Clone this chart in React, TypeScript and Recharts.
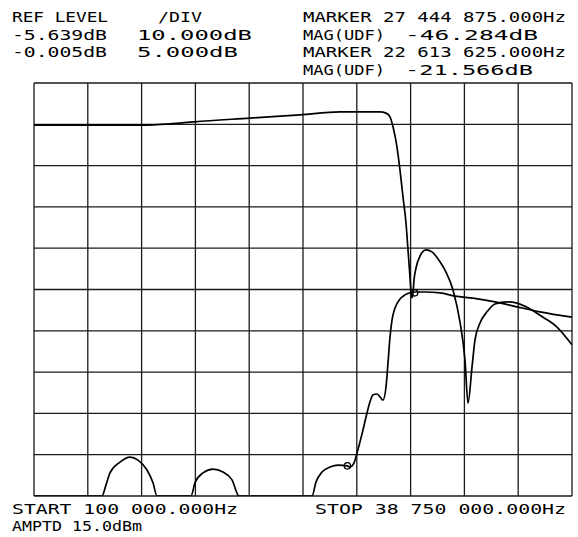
import React from "react";
import { LineChart, Line, XAxis, YAxis, CartesianGrid, ReferenceDot } from "recharts";

// Sweep (MHz)
const START_MHZ = 0.1;
const STOP_MHZ = 38.75;
const DIVISIONS_X = 10;
const DIVISIONS_Y = 10;

// Trace 1 (passband response) — level in graticule divisions above bottom
const trace1Freq = [
  0.1, 3.908, 7.787, 9.87, 11.594, 15.617, 19.209, 22.083, 24.957, 25.388, 25.675, 25.891,
  26.178, 26.393, 26.609, 26.824, 26.968, 27.112, 27.184, 27.256, 27.328, 27.399, 27.543,
  27.83, 28.261, 28.692, 29.267, 29.698, 30.201, 30.704, 31.063, 31.279, 31.566, 31.782,
  32.141, 32.644, 33.218, 34.08, 34.799, 35.733, 36.667, 37.673, 38.75,
];
const trace1Level = [
  8.98, 8.98, 8.98, 9.01, 9.06, 9.15, 9.23, 9.3, 9.3, 9.27, 9.18, 8.94,
  8.45, 7.89, 7.24, 6.61, 5.96, 5.3, 4.94, 4.8, 4.92, 5.23, 5.52,
  5.81, 5.96, 5.91, 5.67, 5.42, 4.99, 4.21, 3.29, 2.25, 3.12, 3.78,
  4.19, 4.46, 4.65, 4.7, 4.67, 4.53, 4.33, 4.09, 3.66,
];

// Trace 2 (stopband response)
const trace2Freq = [
  0.1, 4.985, 5.272, 5.56, 6.278, 6.997, 7.571, 8.218, 8.649, 8.936, 11.379, 11.666,
  12.241, 12.959, 13.678, 14.324, 14.827, 20.072, 20.359, 20.79, 21.365, 21.939, 22.61,
  22.801, 23.089, 23.304, 23.52, 23.735, 24.023, 24.238, 24.454, 24.741, 24.957, 25.172,
  25.388, 25.531, 25.675, 25.819, 26.034, 26.393, 26.752, 27.112, 27.471, 28.189, 29.267,
  30.345, 31.638, 33.218, 34.799, 36.451, 38.75,
];
const trace2Level = [
  0, 0, 0.27, 0.56, 0.82, 0.94, 0.87, 0.63, 0.32, 0, 0, 0.32,
  0.56, 0.65, 0.58, 0.39, 0, 0, 0.34, 0.58, 0.7, 0.75, 0.73,
  0.7, 0.8, 1.04, 1.31, 1.6, 2.01, 2.28, 2.45, 2.47, 2.4, 2.32,
  2.64, 3.22, 3.85, 4.26, 4.55, 4.77, 4.87, 4.92, 4.94, 4.94, 4.92,
  4.84, 4.79, 4.7, 4.58, 4.46, 4.33,
];

// Markers
const markerFreq = [27.444875, 22.613625];
const markerLevel = [4.92, 0.73];

// Annotation text
const headerText = [
  "REF LEVEL", "/DIV", "MARKER 27 444 875.000Hz",
  "-5.639dB", "10.000dB", "MAG(UDF)", "-46.284dB",
  "-0.005dB", "5.000dB", "MARKER 22 613 625.000Hz",
  "MAG(UDF)", "-21.566dB",
];
const footerText = ["START 100 000.000Hz", "STOP 38 750 000.000Hz", "AMPTD 15.0dBm"];

// layout of the annotation text: [x, baseline, width]
const headerLayout: [number, number, number][] = [
  [12, 22, 96], [158, 22, 44], [303, 22, 263],
  [12, 39.5, 95], [137, 39.5, 115], [303, 39.5, 82], [405, 39.5, 133],
  [12, 57, 95], [137, 57, 101], [303, 57, 263],
  [303, 74.5, 82], [405, 74.5, 128],
];
const footerLayout: [number, number, number][] = [
  [12, 514, 226], [315, 514, 251], [12, 531, 130],
];

const trace1 = trace1Freq.map((f, i) => ({ f, v: trace1Level[i] }));
const trace2 = trace2Freq.map((f, i) => ({ f, v: trace2Level[i] }));
const xTicks = Array.from({ length: DIVISIONS_X + 1 }, (_, i) => START_MHZ + (i * (STOP_MHZ - START_MHZ)) / DIVISIONS_X);
const yTicks = Array.from({ length: DIVISIONS_Y + 1 }, (_, i) => i);

const FONT = "'DejaVu Sans Mono', 'Liberation Mono', monospace";

export default function App() {
  const texts = [
    ...headerText.map((t, i) => ({ t, l: headerLayout[i] })),
    ...footerText.map((t, i) => ({ t, l: footerLayout[i] })),
  ];
  return (
    <div style={{ position: "absolute", left: 0, top: 0, width: 578, height: 537, background: "#fff" }}>
      <LineChart
        width={578}
        height={537}
        margin={{ top: 83, left: 34, right: 6, bottom: 41 }}
      >
        <CartesianGrid
          stroke="#1a1a1a"
          strokeWidth={1.3}
          horizontal
          vertical
        />
        <XAxis
          type="number"
          dataKey="f"
          domain={[START_MHZ, STOP_MHZ]}
          ticks={xTicks}
          interval={0}
          allowDataOverflow
          hide
        />
        <YAxis
          type="number"
          domain={[0, DIVISIONS_Y]}
          ticks={yTicks}
          interval={0}
          allowDataOverflow
          hide
        />
        <Line
          data={trace1}
          dataKey="v"
          type="monotone"
          stroke="#000"
          strokeWidth={1.7}
          dot={false}
          isAnimationActive={false}
        />
        <Line
          data={trace2}
          dataKey="v"
          type="monotone"
          stroke="#000"
          strokeWidth={1.7}
          dot={false}
          isAnimationActive={false}
        />
        {markerFreq.map((f, i) => (
          <ReferenceDot
            key={i}
            x={f}
            y={markerLevel[i]}
            r={3.2}
            fill="none"
            stroke="#000"
            strokeWidth={1.3}
          />
        ))}
      </LineChart>
      <svg
        width={578}
        height={537}
        style={{ position: "absolute", left: 0, top: 0, pointerEvents: "none" }}
      >
        {texts.map(({ t, l }, i) => (
          <text
            key={i}
            x={l[0]}
            y={l[1]}
            textLength={l[2]}
            lengthAdjust="spacingAndGlyphs"
            fontFamily={FONT}
            fontSize={14}
            fill="#000"
          >
            {t}
          </text>
        ))}
      </svg>
    </div>
  );
}
